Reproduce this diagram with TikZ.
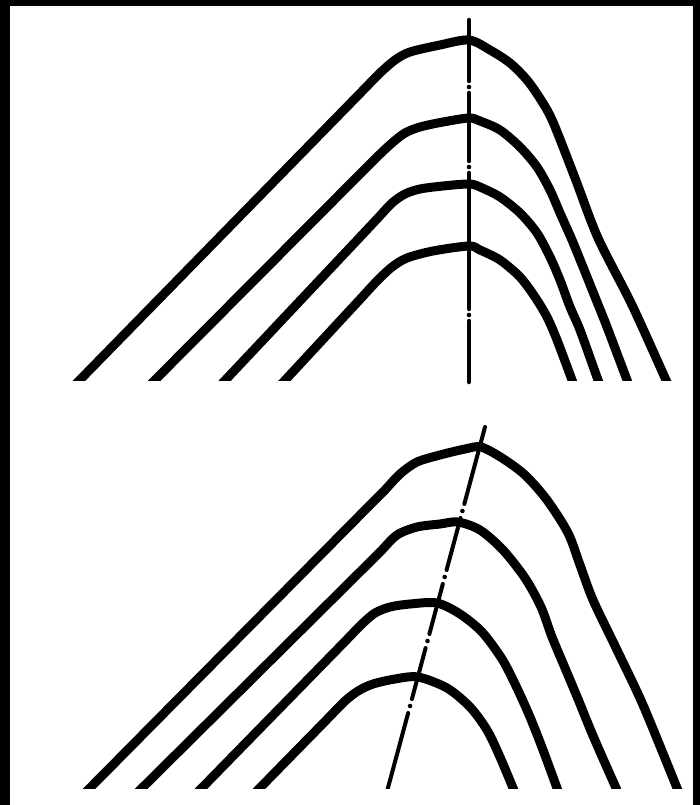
\documentclass[tikz,border=0pt]{standalone}
\begin{document}
\begin{tikzpicture}[x=1pt,y=-1pt]
\tikzset{
  layer/.style={line width=9pt, line join=round},
  axisline/.style={line width=4.5pt, line cap=round},
  axislineb/.style={line width=4pt, line cap=round},
  axisdot/.style={fill=black}
}
\useasboundingbox (0,0) rectangle (700,805);
\fill[black] (0,0) rectangle (700,805);
\fill[white] (10,6) rectangle (693,805);

% ---------- top panel ----------
\begin{scope}
\clip (10,6) rectangle (693,380);
\draw[layer] (70,390) -- plot[smooth,tension=0.5] coordinates {(365,88.3) (380,73) (395,60) (410,52) (440,45) (469,40) (490,50) (510,63) (527,80) (541,100) (553,122) (575,178) (598,238) (632,305) (666,380) (671,390)};
\draw[layer] (145,390) -- plot[smooth,tension=0.5] coordinates {(362,172) (377,157) (392,143) (405,133) (420,127) (443,122) (469,118) (480,121) (500,130) (520,147) (537,167) (550,190) (560,213) (572,240) (583,267) (595,297) (607,327) (627,380) (631,390)};
\draw[layer] (216,390) -- plot[smooth,tension=0.5] coordinates {(362,235) (377,219) (392,203) (405,194) (420,189) (443,186) (469,184) (480,187) (500,197) (520,213) (537,233) (550,257) (560,280) (570,307) (580,330) (598,380) (602,390)};
\draw[layer] (276,390) -- plot[smooth,tension=0.5] coordinates {(362,297.2) (377,281) (392,267) (407,258) (433,251) (469,246) (480,250) (500,260) (520,277) (535,297) (547,317) (557,340) (572,380) (576,390)};
\end{scope}
% top axis (dash-dot)
\coordinate (ta0) at (469,20);
\coordinate (ta1) at (469,81);
\coordinate (ta2) at (469,93);
\coordinate (ta3) at (469,161);
\coordinate (ta4) at (469,173);
\coordinate (ta5) at (469,309);
\coordinate (ta6) at (469,321);
\coordinate (ta7) at (469,382);
\draw[axisline] (ta0) -- (ta1);
\draw[axisline] (ta2) -- (ta3);
\draw[axisline] (ta4) -- (ta5);
\draw[axisline] (ta6) -- (ta7);
\fill[axisdot] (469,87) circle (2.3);
\fill[axisdot] (469,167) circle (2.3);
\fill[axisdot] (469,315) circle (2.3);

% ---------- bottom panel ----------
\begin{scope}
\clip (10,395) rectangle (693,788);
\draw[layer] (80,798) -- plot[smooth,tension=0.5] coordinates {(369,506) (384,491) (400,474) (417,462) (440,455) (465,449) (481,447) (502,458) (525,475) (547,500) (568,533) (580,565) (593,600) (617,650) (643,705) (677,788) (681,798)};
\draw[layer] (132,798) -- plot[smooth,tension=0.5] coordinates {(365,566.9) (380,552) (397,535) (417,527) (440,524) (458,522) (480,530) (503,550) (525,578) (541,607) (552,637) (565,668) (578,699) (591,731) (604,761) (616,788) (620,798)};
\draw[layer] (192,798) -- plot[smooth,tension=0.5] coordinates {(347,639.4) (362,624) (375,613) (390,607) (410,604) (437,603) (460,614) (482,632) (502,659) (516,686) (530,717) (543,750) (557,788) (561,798)};
\draw[layer] (250,798) -- plot[smooth,tension=0.5] coordinates {(330,716.3) (345,701) (358,691) (373,684) (395,679) (418,677) (447,688) (470,707) (487,730) (500,757) (513,788) (517,798)};
% bottom axis (dash-dot)
\coordinate (ba0) at (485,427);
\coordinate (ba1) at (464.31,504);
\coordinate (ba2) at (460.55,518);
\coordinate (ba3) at (446.58,570);
\coordinate (ba4) at (442.81,584);
\coordinate (ba5) at (429.38,634);
\coordinate (ba6) at (425.62,648);
\coordinate (ba7) at (411.91,699);
\coordinate (ba8) at (408.15,713);
\coordinate (ba9) at (385.5,797);
\draw[axislineb] (ba0) -- (ba1);
\draw[axislineb] (ba2) -- (ba3);
\draw[axislineb] (ba4) -- (ba5);
\draw[axislineb] (ba6) -- (ba7);
\draw[axislineb] (ba8) -- (ba9);
\fill[axisdot] (462.43,511) circle (2.3);
\fill[axisdot] (444.69,577) circle (2.3);
\fill[axisdot] (427.50,641) circle (2.3);
\fill[axisdot] (410.03,706) circle (2.3);
\end{scope}
\end{tikzpicture}
\end{document}
